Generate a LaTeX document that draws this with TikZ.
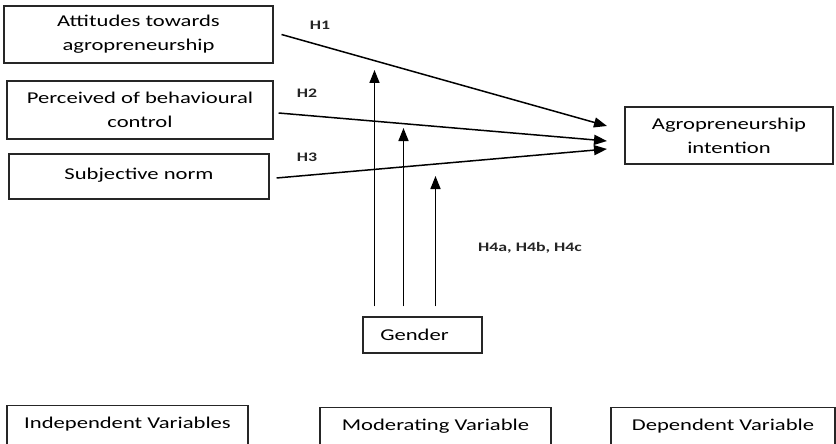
\documentclass[tikz,border=0pt]{standalone}
\usepackage{fontspec}
\setmainfont[FakeStretch=1.37]{Carlito}
\usetikzlibrary{positioning,arrows.meta}

\tikzset{
  varbox/.style={draw=black!85,line width=1.1pt,align=center,inner sep=2pt,font=\fontsize{16.5}{24}\selectfont},
  hyp/.style={line width=1.5pt,-{Triangle[length=13pt,width=10pt]}},
  hlabel/.style={font=\fontsize{13}{15}\selectfont\bfseries,text=black!85}
}

\begin{document}
\begin{tikzpicture}[x=1pt,y=-1pt]
\clip (0,0) rectangle (836,444);
% independent variables
\node[varbox,minimum width=269pt,minimum height=57pt] (att) at (138.5,34.5) {Attitudes towards\\agropreneurship};
\node[varbox,minimum width=266pt,minimum height=58pt] (pbc) at (140,110) {Perceived of behavioural\\control};
\node[varbox,minimum width=260pt,minimum height=45pt] (sn) at (139,176.5) {\raisebox{5pt}{Subjective norm}};
% dependent and moderating variables
\node[varbox,minimum width=208pt,minimum height=57pt] (dv) at (729,135.5) {Agropreneurship\\intention};
\node[varbox,minimum width=119pt,minimum height=36pt] (gender) at (422.5,335) {\hspace*{-16pt}Gender};
% arrow ends
\coordinate (e1) at (607,126);
\coordinate (e2) at (607,141);
\coordinate (e3) at (607,149);
\draw[hyp] ([xshift=8]att.east) -- (e1);
\draw[hyp] ([xshift=5,yshift=-3]pbc.east) -- (e2);
\draw[hyp] ([xshift=7,yshift=-1.5]sn.east) -- (e3);
\node[hlabel] (h1) at (320,25) {H1};
\node[hlabel] (h2) at (307,93) {H2};
\node[hlabel] (h3) at (307,157) {H3};
% moderating arrows
\foreach \dx/\ty [count=\i] in {-48/70,-19/128,13/176} {
  \coordinate (m\i) at (422.5+\dx,\ty);
  \draw[hyp] ([xshift=\dx,yshift=10]gender.north) -- (m\i);
}
\node[hlabel] (h4) at (530,248) {H4a, H4b, H4c};
% legend
\node[varbox,anchor=north,minimum width=241pt,minimum height=42pt] (iv) at (127.5,405) {\raisebox{8pt}{Independent Variables}};
\node[varbox,anchor=north,minimum width=231pt,minimum height=42pt] (mv) at (435.5,407) {\raisebox{8pt}{Moderating Variable}};
\node[varbox,anchor=north,minimum width=224pt,minimum height=42pt] (dep) at (723,407) {\raisebox{8pt}{Dependent Variable}};
\end{tikzpicture}
\end{document}
